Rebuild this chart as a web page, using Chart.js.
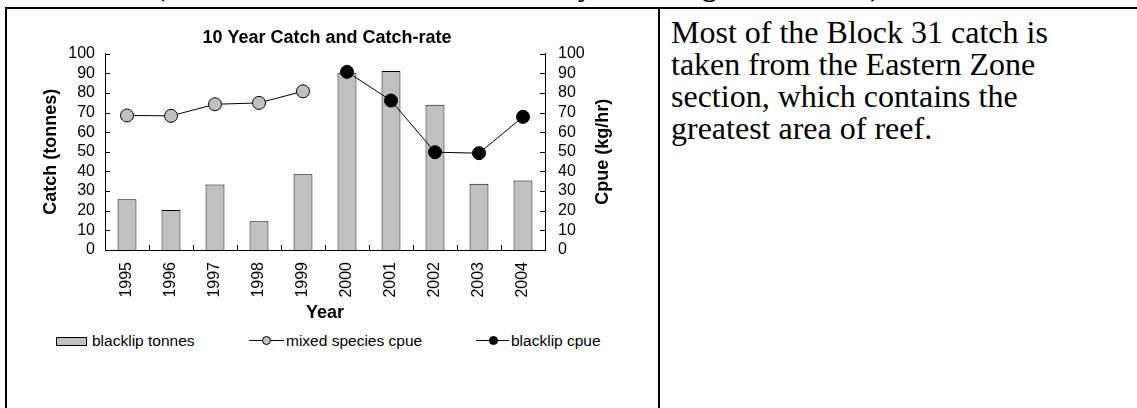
<!DOCTYPE html>
<html>
<head>
<meta charset="utf-8">
<script src="https://cdn.jsdelivr.net/npm/chart.js@4.4.1/dist/chart.umd.min.js"></script>
<style>
  html, body { margin: 0; padding: 0; background: #fff; }
  body { position: relative; width: 1137px; height: 408px; overflow: hidden; }
  #heading { position: absolute; left: 45px; top: -29px; font: bold 28px "Liberation Serif", "Times New Roman", serif; line-height: 32px; white-space: nowrap; }
  .rule { position: absolute; background: #000; }
  #chart { position: absolute; left: 8px; top: 10px; }
  #note { position: absolute; left: 671px; top: 16px; font: 32px "Liberation Serif", "Times New Roman", serif; line-height: 32px; color: #000; white-space: nowrap; }
  .legend { position: absolute; top: 332px; height: 18px; font: 15.5px "Liberation Sans", Arial, sans-serif; line-height: 18px; color: #000; white-space: nowrap; }
  .swatch { position: absolute; left: 0; top: 5px; width: 29px; height: 7px; background: #c0c0c0; border: 1px solid #000; }
  .lineicon { position: absolute; left: 0; top: 8px; width: 35px; height: 1px; background: #000; }
  .dot { position: absolute; left: 13px; top: 4px; width: 7px; height: 7px; border: 1px solid #000; border-radius: 50%; }
  .legend .txt { position: absolute; top: 0; }
</style>
</head>
<body>
<div id="heading">Block 31 (Waterhouse Point to Musselroe Bay, including Swan Island)</div>
<div class="rule" style="left:5px; top:7px; width:1132px; height:2px;"></div>
<div class="rule" style="left:5px; top:7px; width:2px; height:401px;"></div>
<div class="rule" style="left:658px; top:7px; width:2px; height:401px;"></div>

<canvas id="chart" width="649" height="314"></canvas>

<div class="legend" style="left:56px;"><span class="swatch"></span><span class="txt" style="left:36px;">blacklip tonnes</span></div>
<div class="legend" style="left:249px;"><span class="lineicon"></span><span class="dot" style="background:#c0c0c0;"></span><span class="txt" style="left:37px;">mixed species cpue</span></div>
<div class="legend" style="left:476px;"><span class="lineicon" style="width:33px;"></span><span class="dot" style="background:#000;"></span><span class="txt" style="left:35px;">blacklip cpue</span></div>

<div id="note">Most of the Block 31 catch is<br>taken from the Eastern Zone<br>section, which contains the<br>greatest area of reef.</div>

<script>
"use strict";

// Data
const years = ["1995", "1996", "1997", "1998", "1999", "2000", "2001", "2002", "2003", "2004"];
const blacklipTonnes = [25.8, 20.4, 33.4, 14.7, 38.6, 90.3, 91.2, 73.9, 33.7, 35.4];
const mixedSpeciesCpue = [68.5, 68.3, 74.2, 74.9, 80.8, null, null, null, null, null];
const blacklipCpue = [null, null, null, null, null, 90.7, 76.1, 49.8, 49.3, 67.8];

// Axis ranges (both axes 0-100, step 10)
const axisMin = 0;
const axisMax = 100;
const axisStep = 10;

Chart.defaults.font.family = '"Liberation Sans", Arial, sans-serif';
Chart.defaults.color = '#000';

// Excel style tick marks, pointing into the plot
const insideTicks = {
    id: 'insideTicks',
    afterDraw: function(chart) {
        const ctx = chart.ctx;
        const x = chart.scales.x;
        const y = chart.scales.y;
        const y1 = chart.scales.y1;
        ctx.save();
        ctx.strokeStyle = '#000';
        ctx.lineWidth = 1;
        ctx.beginPath();
        y.ticks.forEach(function(t) {
            const py = Math.round(y.getPixelForValue(t.value)) + 0.5;
            ctx.moveTo(y.right, py);
            ctx.lineTo(y.right + 5, py);
        });
        y1.ticks.forEach(function(t) {
            const py = Math.round(y1.getPixelForValue(t.value)) + 0.5;
            ctx.moveTo(y1.left, py);
            ctx.lineTo(y1.left - 5, py);
        });
        for (let i = 1; i < x.ticks.length; i++) {
            const px = Math.round((x.getPixelForTick(i - 1) + x.getPixelForTick(i)) / 2) + 0.5;
            ctx.moveTo(px, x.top);
            ctx.lineTo(px, x.top - 5);
        }
        ctx.stroke();

        // right axis title, reading bottom to top
        ctx.font = 'bold 18px "Liberation Sans", Arial, sans-serif';
        ctx.fillStyle = '#000';
        ctx.textAlign = 'center';
        ctx.textBaseline = 'middle';
        ctx.translate(y1.left + 58, (y1.top + y1.bottom) / 2);
        ctx.rotate(-Math.PI / 2);
        ctx.fillText('Cpue (kg/hr)', 0, 0);
        ctx.restore();
    }
};

const config = {
    type: 'bar',
    data: {
        labels: years,
        datasets: [
            {
                type: 'line',
                label: 'mixed species cpue',
                data: mixedSpeciesCpue,
                yAxisID: 'y1',
                borderColor: '#000',
                borderWidth: 1,
                pointRadius: 6.5,
                pointBackgroundColor: '#c0c0c0',
                pointBorderColor: '#000',
                pointBorderWidth: 1,
                fill: false,
                order: 1
            },
            {
                type: 'line',
                label: 'blacklip cpue',
                data: blacklipCpue,
                yAxisID: 'y1',
                borderColor: '#000',
                borderWidth: 1,
                pointRadius: 6.5,
                pointBackgroundColor: '#000',
                pointBorderColor: '#000',
                pointBorderWidth: 1,
                fill: false,
                order: 1
            },
            {
                label: 'blacklip tonnes',
                data: blacklipTonnes,
                yAxisID: 'y',
                backgroundColor: '#c0c0c0',
                borderColor: '#000',
                borderWidth: 1,
                barPercentage: 0.43,
                categoryPercentage: 1,
                order: 2
            }
        ]
    },
    options: {
        responsive: false,
        animation: false,
        devicePixelRatio: 1,
        layout: { padding: { left: 0, right: 11, top: 0, bottom: 0 } },
        plugins: {
            legend: { display: false },
            tooltip: { enabled: false },
            title: {
                display: true,
                text: '10 Year Catch and Catch-rate',
                color: '#000',
                font: { size: 18, weight: 'bold' },
                padding: { top: 17, bottom: 5 }
            }
        },
        scales: {
            x: {
                offset: true,
                grid: { display: false, drawTicks: false },
                border: { display: true, color: '#000', width: 1 },
                ticks: { minRotation: 90, maxRotation: 90, autoSkip: false, padding: 12, font: { size: 16 } },
                title: { display: true, text: 'Year', font: { size: 18, weight: 'bold' }, padding: { top: 0, bottom: 0 } },
                afterFit: function(scale) { scale.height = 74; }
            },
            y: {
                position: 'left',
                min: axisMin,
                max: axisMax,
                grid: { display: false, drawTicks: false },
                border: { display: true, color: '#000', width: 1 },
                ticks: { stepSize: axisStep, autoSkip: false, padding: 10, font: { size: 16 } },
                title: { display: true, text: 'Catch (tonnes)', font: { size: 18, weight: 'bold' }, padding: { top: 32, bottom: 0 } },
                afterFit: function(scale) { scale.width = 97; }
            },
            y1: {
                position: 'right',
                min: axisMin,
                max: axisMax,
                grid: { display: false, drawTicks: false },
                border: { display: true, color: '#000', width: 1 },
                ticks: { stepSize: axisStep, autoSkip: false, padding: 13, font: { size: 16 } },
                afterFit: function(scale) { scale.width = 101; }
            }
        }
    },
    plugins: [insideTicks]
};

const myChart = new Chart(document.getElementById('chart'), config);
</script>
</body>
</html>
